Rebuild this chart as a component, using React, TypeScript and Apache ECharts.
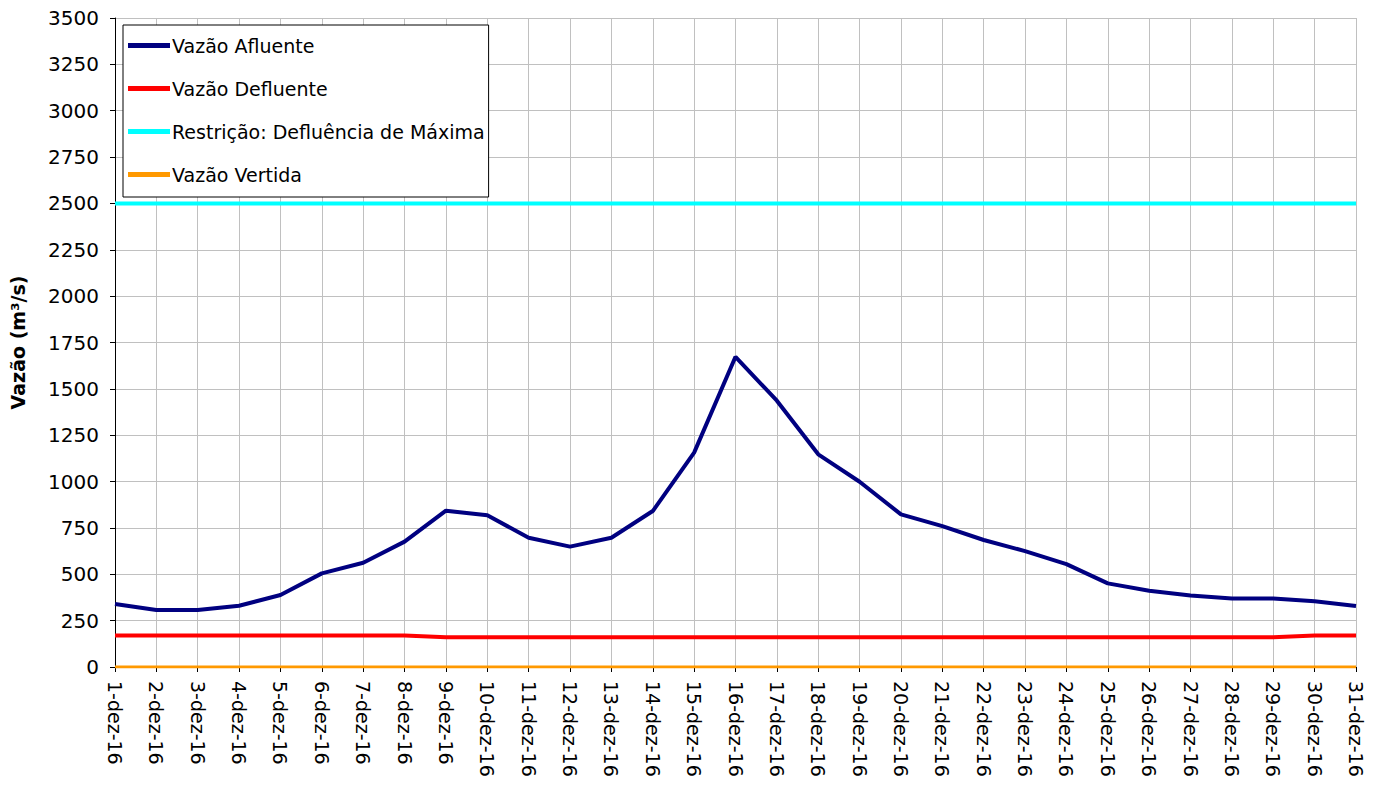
import React, { useEffect, useRef } from "react";
import * as echarts from "echarts";

const days: string[] = Array.from({ length: 31 }, (_, i) => `${i + 1}-dez-16`);

const afluente: number[] = [
  340, 307, 307, 330, 388, 505, 562, 676, 843, 818,
  697, 649, 697, 841, 1156, 1673, 1436, 1147, 999, 823,
  760, 685, 625, 555, 451, 411, 385, 370, 370, 354, 329,
];

const defluente: number[] = [
  170, 170, 170, 170, 170, 170, 170, 170, 160, 160,
  160, 160, 160, 160, 160, 160, 160, 160, 160, 160,
  160, 160, 160, 160, 160, 160, 160, 160, 160, 170, 170,
];

const restricao: number[] = days.map(() => 2500);
const vertida: number[] = days.map(() => 0);

const FONT = "DejaVu Sans, Arial, sans-serif";

export default function App() {
  const ref = useRef<HTMLDivElement>(null);
  useEffect(() => {
    if (!ref.current) return;
    const chart = echarts.init(ref.current, null, { renderer: "svg" });
    chart.setOption({
      animation: false,
      backgroundColor: "#ffffff",
      textStyle: { fontFamily: FONT },
      grid: { left: 115, right: 28, top: 18, bottom: 120, containLabel: false },
      legend: {
        orient: "vertical",
        left: 123,
        top: 25,
        backgroundColor: "#ffffff",
        borderColor: "#000000",
        borderWidth: 1,
        padding: [11, 4, 13, 5],
        itemGap: 24,
        itemWidth: 42,
        itemHeight: 5,
        icon: "rect",
        textStyle: { fontSize: 19, color: "#000", fontFamily: FONT, padding: [0, 0, 0, -3] },
        data: ["Vazão Afluente", "Vazão Defluente", "Restrição: Defluência de Máxima", "Vazão Vertida"],
      },
      xAxis: {
        type: "category",
        data: days,
        boundaryGap: false,
        axisLine: { lineStyle: { color: "#000", width: 1 } },
        axisTick: { show: true, inside: false, length: 5, lineStyle: { color: "#000" }, alignWithLabel: true },
        axisLabel: {
          rotate: -90,
          interval: 0,
          fontSize: 19,
          color: "#000",
          fontFamily: FONT,
          margin: 14,
        },
        splitLine: { show: true, lineStyle: { color: "#c0c0c0", width: 1 } },
      },
      yAxis: {
        type: "value",
        min: 0,
        max: 3500,
        interval: 250,
        name: "Vazão (m³/s)",
        nameLocation: "middle",
        nameRotate: 90,
        nameGap: 88,
        nameTextStyle: { fontSize: 19, fontWeight: "bold", color: "#000", fontFamily: FONT },
        axisLine: { show: true, lineStyle: { color: "#000", width: 1 } },
        axisTick: { show: true, inside: false, length: 5, lineStyle: { color: "#000" } },
        axisLabel: {
          fontSize: 20,
          color: "#000",
          fontFamily: FONT,
          margin: 16,
          formatter: (v: number) => String(v),
        },
        splitLine: { show: true, lineStyle: { color: "#c0c0c0", width: 1 } },
      },
      series: [
        {
          name: "Vazão Afluente",
          type: "line",
          data: afluente,
          symbol: "none",
          color: "#000080",
          lineStyle: { color: "#000080", width: 4 },
          z: 5,
        },
        {
          name: "Vazão Defluente",
          type: "line",
          data: defluente,
          symbol: "none",
          color: "#ff0000",
          lineStyle: { color: "#ff0000", width: 4 },
          z: 4,
        },
        {
          name: "Restrição: Defluência de Máxima",
          type: "line",
          data: restricao,
          symbol: "none",
          color: "#00ffff",
          lineStyle: { color: "#00ffff", width: 4 },
          z: 3,
        },
        {
          name: "Vazão Vertida",
          type: "line",
          data: vertida,
          symbol: "none",
          color: "#ff9900",
          lineStyle: { color: "#ff9900", width: 3 },
          z: 6,
        },
      ],
    });
    return () => chart.dispose();
  }, []);
  return <div ref={ref} style={{ width: 1384, height: 787, position: "absolute", left: 0, top: 0 }} />;
}
